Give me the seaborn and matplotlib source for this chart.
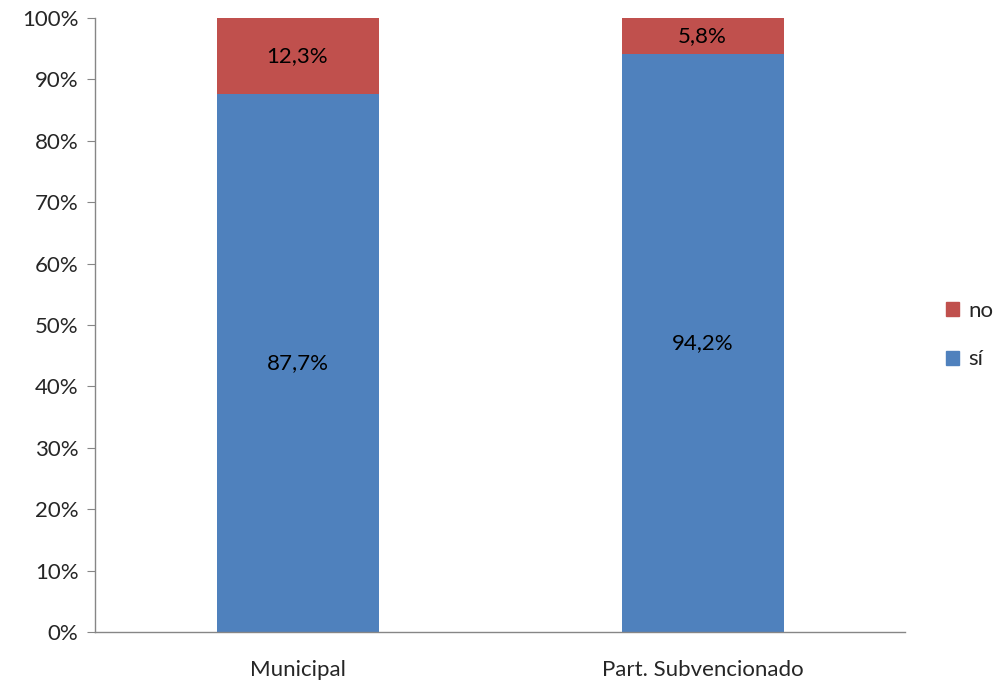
import numpy as np
import pandas as pd
import matplotlib
matplotlib.use("Agg")
import matplotlib.pyplot as plt
import seaborn as sns
from matplotlib.patches import Patch

# data
categorias = ["Municipal", "Part. Subvencionado"]
si_vals = [87.7, 94.2]
no_vals = [12.3, 5.8]
yticks = [0, 10, 20, 30, 40, 50, 60, 70, 80, 90, 100]

azul = "#4F81BD"
rojo = "#C0504D"
gris = "#868686"
fs = 16

sns.set_style("white")
plt.rcParams['font.family'] = ['Lato', 'DejaVu Sans']

df = pd.DataFrame({"cat": categorias, "si": si_vals, "no": no_vals})
df["total"] = df["si"] + df["no"]

fig = plt.figure(figsize=(10, 6.81), dpi=100)
ax = fig.add_axes([0.095, 0.0719, 0.81, 0.9017])

# stacked: total in red, then blue on top of it
sns.barplot(data=df, x="cat", y="total", color=rojo, width=0.4,
            saturation=1, ax=ax, linewidth=0)
sns.barplot(data=df, x="cat", y="si", color=azul, width=0.4,
            saturation=1, ax=ax, linewidth=0)

for i, (s, n) in enumerate(zip(si_vals, no_vals)):
    ax.text(i, s / 2, f"{s:.1f}%".replace(".", ","), ha="center", va="center",
            fontsize=fs, color="black")
    ax.text(i, s + n / 2, f"{n:.1f}%".replace(".", ","), ha="center", va="center",
            fontsize=fs, color="black")

ax.set_xlim(-0.5, 1.5)
ax.set_ylim(0, 100)
ax.set_yticks(yticks)
ax.set_yticklabels([f"{t}%" for t in yticks], fontsize=fs)
ax.set_xticks([0, 1])
ax.set_xticklabels(categorias, fontsize=fs)
ax.set_xlabel("")
ax.set_ylabel("")

# category separators on the x axis
ax.set_xticks([-0.5, 0.5, 1.5], minor=True)
ax.tick_params(axis="x", which="major", length=0, pad=20)
ax.tick_params(axis="x", which="minor", length=6, color=gris, direction="out")
ax.tick_params(axis="y", length=6, color=gris, direction="out", left=True, pad=6)

for side in ["top", "right"]:
    ax.spines[side].set_visible(False)
for side in ["left", "bottom"]:
    ax.spines[side].set_color(gris)
    ax.spines[side].set_linewidth(1)

handles = [Patch(color=rojo, label="no"), Patch(color=azul, label="sí")]
fig.legend(handles=handles, loc="center left", bbox_to_anchor=(0.946, 0.508),
           frameon=False, fontsize=fs, handlelength=0.6, handleheight=0.6,
           handletextpad=0.4, labelspacing=1.3, borderpad=0, borderaxespad=0)

fig.savefig("out.png", dpi=100)
